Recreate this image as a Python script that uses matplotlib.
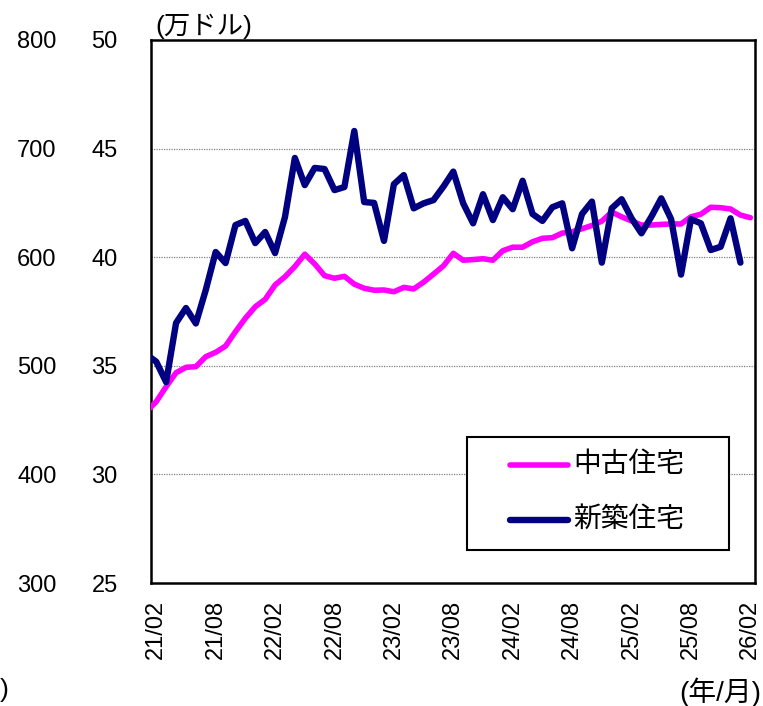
import numpy as np
import matplotlib
matplotlib.use("Agg")
import matplotlib.pyplot as plt
from matplotlib.ticker import FixedLocator
from matplotlib.patches import Rectangle
from matplotlib.lines import Line2D

plt.rcParams['font.family'] = ['Liberation Sans', 'Noto Sans CJK JP', 'DejaVu Sans']

# Months: 21/01 .. 26/02 (21/01 lies just outside the left edge of the plot)
months = [f"{y % 100:02d}/{m:02d}" for y in range(2021, 2027) for m in range(1, 13)]
months = months[:months.index("26/02") + 1]

# 中古住宅 (existing homes), 万ドル, 21/01 .. 26/02
existing = [32.89, 33.35, 34.04, 34.68, 34.93, 34.96, 35.42, 35.62, 35.91, 36.57,
            37.19, 37.72, 38.06, 38.72, 39.10, 39.57, 40.14, 39.69, 39.15, 39.03,
            39.12, 38.76, 38.57, 38.48, 38.49, 38.41, 38.61, 38.54, 38.85, 39.22,
            39.60, 40.18, 39.86, 39.89, 39.93, 39.86, 40.30, 40.46, 40.46, 40.71,
            40.87, 40.90, 41.11, 41.17, 41.31, 41.46, 41.66, 42.08, 41.86, 41.67,
            41.48, 41.48, 41.51, 41.53, 41.53, 41.86, 41.98, 42.30, 42.28, 42.22,
            41.94, 41.82]

# 新築住宅 (new homes), 万ドル, 21/01 .. 26/01
new = [35.52, 35.19, 34.25, 36.97, 37.66, 36.95, 38.49, 40.24, 39.73, 41.48,
       41.67, 40.65, 41.16, 40.19, 41.85, 44.57, 43.32, 44.11, 44.06, 43.09,
       43.23, 45.81, 42.54, 42.50, 40.75, 43.36, 43.78, 42.25, 42.48, 42.63,
       43.25, 43.94, 42.48, 41.56, 42.90, 41.71, 42.76, 42.21, 43.52, 41.99,
       41.67, 42.30, 42.48, 40.41, 41.99, 42.56, 39.75, 42.25, 42.67, 41.79,
       41.10, 41.86, 42.71, 41.75, 39.20, 41.75, 41.56, 40.33, 40.48, 41.79,
       39.75]

series_names = ['中古住宅', '新築住宅']
series_colors = ['#FF00FF', '#000080']
series_widths = [4.0, 4.6]

tick_labels = ["21/02", "21/08", "22/02", "22/08", "23/02", "23/08",
               "24/02", "24/08", "25/02", "25/08", "26/02"]
left_vals = [25, 30, 35, 40, 45, 50]
outer_vals = [300, 400, 500, 600, 700, 800]

W, H = 763, 706
fig = plt.figure(figsize=(W / 100, H / 100), dpi=100)
ax = fig.add_axes([151 / W, 1 - 583 / H, 604 / W, 543 / H])

base = months.index("21/02")
x_ex = np.arange(len(existing)) - base
x_new = np.arange(len(new)) - base

ax.plot(x_ex, existing, color=series_colors[0], lw=series_widths[0],
        solid_joinstyle='round', solid_capstyle='round', zorder=3)
ax.plot(x_new, new, color=series_colors[1], lw=series_widths[1],
        solid_joinstyle='round', solid_capstyle='round', zorder=4)

ax.set_xlim(-0.53, 60.47)
ax.set_ylim(25, 50)

ax.set_yticks(left_vals)
ax.set_yticklabels([str(v) for v in left_vals])
ax.tick_params(axis='y', length=0, pad=24, labelsize=17)

ticks = [months.index(t) - base for t in tick_labels]
ax.set_xticks(ticks)
ax.set_xticklabels(tick_labels, rotation=90, va='top', ha='center')
ax.tick_params(axis='x', length=0, pad=12, labelsize=17)

for v in [30, 35, 40, 45]:
    ax.axhline(v, color='#808080', lw=0.9, ls=(0, (1, 1)), zorder=1)

for s in ax.spines.values():
    s.set_linewidth(1.8)
    s.set_color('black')

# outer left axis (300-800)
sec = ax.secondary_yaxis('left', functions=(lambda v: 300 + (v - 25) * 20,
                                             lambda u: 25 + (u - 300) / 20))
sec.yaxis.set_major_locator(FixedLocator(outer_vals))
sec.spines['left'].set_visible(False)
sec.tick_params(axis='y', length=0, pad=68, labelsize=17)

# legend box (drawn in figure pixel coordinates)
def fx(px):
    return px / W

def fy(py):
    return 1 - py / H

fig.patches.append(Rectangle((fx(467), fy(550)), fx(729) - fx(467), fy(437) - fy(550),
                             transform=fig.transFigure, facecolor='white',
                             edgecolor='black', lw=1.5, zorder=5))
for i, (name, col, lw) in enumerate(zip(series_names, series_colors, series_widths)):
    yy = [465, 520][i]
    fig.lines.append(Line2D([fx(510), fx(568)], [fy(yy), fy(yy)], color=col, lw=lw,
                            solid_capstyle='round', transform=fig.transFigure, zorder=6))
    fig.text(fx(573), fy(yy), name, fontsize=20, ha='left', va='center', zorder=6)

fig.text(155 / W, 1 - 26 / H, '(万ドル)', fontsize=19, ha='left', va='center')
fig.text(761 / W, 1 - 692 / H, '(年/月)', fontsize=20, ha='right', va='center')
fig.text(0 / W, 1 - 690 / H, ')', fontsize=19, ha='left', va='center')

fig.savefig('out.png', dpi=100)
